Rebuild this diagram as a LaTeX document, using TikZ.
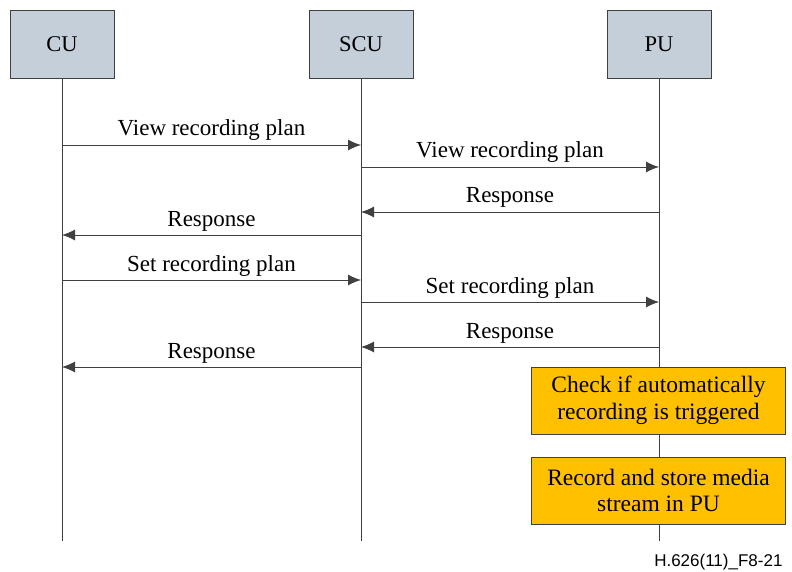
\documentclass[tikz,border=0pt]{standalone}
\usepackage{fontspec}
\setmainfont{Liberation Serif}
\newfontfamily\footfont{Liberation Sans}
\usetikzlibrary{arrows.meta}
\definecolor{hdrfill}{HTML}{C4CFDA}
\definecolor{actfill}{HTML}{FFC000}
\definecolor{linecol}{HTML}{404040}
\tikzset{
  hdr/.style={draw=linecol, fill=hdrfill, line width=0.9pt, minimum width=104pt, minimum height=68pt, inner sep=0pt, font=\fontsize{22.5}{26}\selectfont},
  act/.style={draw=linecol, fill=actfill, line width=0.9pt, minimum width=254pt, minimum height=67pt, inner sep=0pt, align=center, font=\fontsize{23.5}{26.5}\selectfont},
  life/.style={draw=linecol, line width=0.7pt},
  msg/.style={draw=linecol, line width=0.9pt, -{Latex[length=13pt,width=11pt]}},
  lbl/.style={font=\fontsize{23}{26}\selectfont, anchor=base, yshift=9pt, midway, inner sep=0pt},
}
\begin{document}
\begin{tikzpicture}[x=1pt,y=-1pt]
\useasboundingbox (0,0) rectangle (792,572);
\node[hdr] (cu) at (62,44) {CU};
\node[hdr] (scu) at (361,44) {SCU};
\node[hdr] (pu) at (659,44) {PU};
\coordinate (cuE) at (62,541);
\coordinate (scuE) at (361,541);
\coordinate (puE) at (659,541);
\draw[life] (cu.south) -- (cuE);
\draw[life] (scu.south) -- (scuE);
\draw[life] (pu.south) -- (puE);
% messages
\coordinate (a1) at (62,145);  \coordinate (b1) at (361,145);
\coordinate (a2) at (361,167); \coordinate (b2) at (659,167);
\coordinate (a3) at (659,212); \coordinate (b3) at (361,212);
\coordinate (a4) at (361,235); \coordinate (b4) at (62,235);
\coordinate (a5) at (62,280);  \coordinate (b5) at (361,280);
\coordinate (a6) at (361,302); \coordinate (b6) at (659,302);
\coordinate (a7) at (659,347); \coordinate (b7) at (361,347);
\coordinate (a8) at (361,367); \coordinate (b8) at (62,367);
\draw[msg] (a1) -- node[lbl]{View recording plan} (b1);
\draw[msg] (a2) -- node[lbl]{View recording plan} (b2);
\draw[msg] (a3) -- node[lbl]{Response} (b3);
\draw[msg] (a4) -- node[lbl]{Response} (b4);
\draw[msg] (a5) -- node[lbl]{Set recording plan} (b5);
\draw[msg] (a6) -- node[lbl]{Set recording plan} (b6);
\draw[msg] (a7) -- node[lbl]{Response} (b7);
\draw[msg] (a8) -- node[lbl]{Response} (b8);
\node[act] (chk) at (658.5,400.5) {Check if automatically\\recording is triggered};
\node[act] (rec) at (658.5,490.5) {Record and store media\\stream in PU};
\node[anchor=base east, font=\footfont\fontsize{17}{20}\selectfont] (ref) at (786,566) {H.626(11)\_F8-21};
\end{tikzpicture}
\end{document}
